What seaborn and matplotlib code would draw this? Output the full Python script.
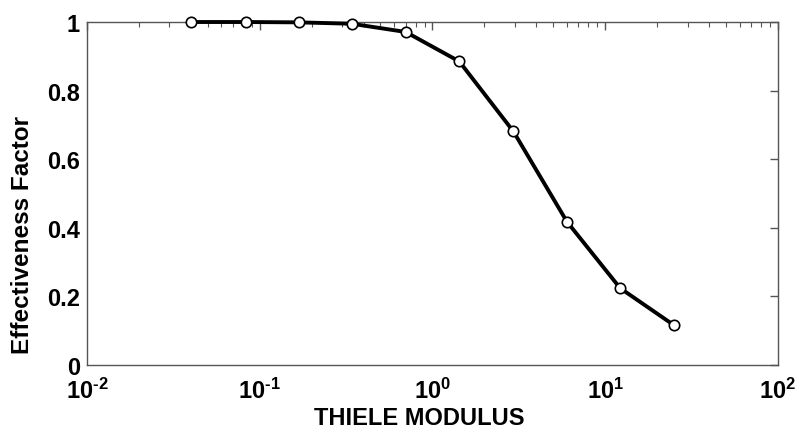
import matplotlib
matplotlib.use("Agg")
import matplotlib.pyplot as plt
import seaborn as sns
import pandas as pd
import numpy as np
from matplotlib.ticker import LogLocator, FixedLocator, FixedFormatter, FuncFormatter

thiele_modulus = [0.04, 0.083, 0.168, 0.34, 0.70, 1.43, 2.94, 6.0, 12.2, 25.0]
effectiveness = [1.0, 1.0, 0.999, 0.995, 0.971, 0.885, 0.681, 0.418, 0.224, 0.116]
y_ticks = [0, 0.2, 0.4, 0.6, 0.8, 1.0]
y_tick_labels = ["0", "0.2", "0.4", "0.6", "0.8", "1"]

sns.set_style("white")
plt.rcParams['font.family'] = ['Liberation Sans', 'DejaVu Sans']
plt.rcParams['font.weight'] = 'bold'
plt.rcParams['mathtext.fontset'] = 'custom'
plt.rcParams['mathtext.rm'] = 'Liberation Sans:bold'
plt.rcParams['mathtext.it'] = 'Liberation Sans:bold'
plt.rcParams['mathtext.bf'] = 'Liberation Sans:bold'
plt.rcParams['mathtext.default'] = 'bf'

df = pd.DataFrame({"x": thiele_modulus, "y": effectiveness})

fig = plt.figure(figsize=(7.95, 4.31), dpi=100)
ax = fig.add_axes([0.1094, 0.1508, 0.8692, 0.7958])

sns.lineplot(data=df, x="x", y="y", ax=ax, color="black", linewidth=2.8,
             marker="o", markersize=7.5, markerfacecolor="white",
             markeredgecolor="black", markeredgewidth=1.2, clip_on=False,
             zorder=5)

ax.set_xscale("log")
ax.set_xlim(1e-2, 1e2)
ax.set_ylim(0, 1)
ax.xaxis.set_major_locator(LogLocator(base=10, numticks=10))
ax.xaxis.set_minor_locator(LogLocator(base=10, subs=range(2, 10), numticks=20))


def log_fmt(v, pos):
    e = int(np.round(np.log10(v)))
    if e < 0:
        return r"$\mathbf{10^{\text{-}%d}}$" % (-e)
    return r"$\mathbf{10^{%d}}$" % e


ax.xaxis.set_major_formatter(FuncFormatter(log_fmt))
ax.yaxis.set_major_locator(FixedLocator(y_ticks))
ax.yaxis.set_major_formatter(FixedFormatter(y_tick_labels))

for s in ax.spines.values():
    s.set_visible(True)
    s.set_color("#555555")
    s.set_linewidth(1.0)

ax.tick_params(which="both", direction="in", top=True, right=True,
               colors="#555555", labelcolor="black")
ax.tick_params(which="major", length=6, width=1.0, labelsize=17, pad=5)
ax.tick_params(which="minor", length=3.5, width=0.8)
ax.tick_params(axis="x", which="major", pad=9)

for lab in ax.get_xticklabels() + ax.get_yticklabels():
    lab.set_fontweight("bold")

ax.set_xlabel("THIELE MODULUS", fontsize=17, fontweight="bold", color="black",
              va="center")
ax.set_ylabel("Effectiveness Factor", fontsize=17.5, fontweight="bold",
              color="black", va="center")
ax.xaxis.set_label_coords(0.481, -0.152)
ax.yaxis.set_label_coords(-0.094, 0.382)

fig.savefig("out.png", dpi=100)
